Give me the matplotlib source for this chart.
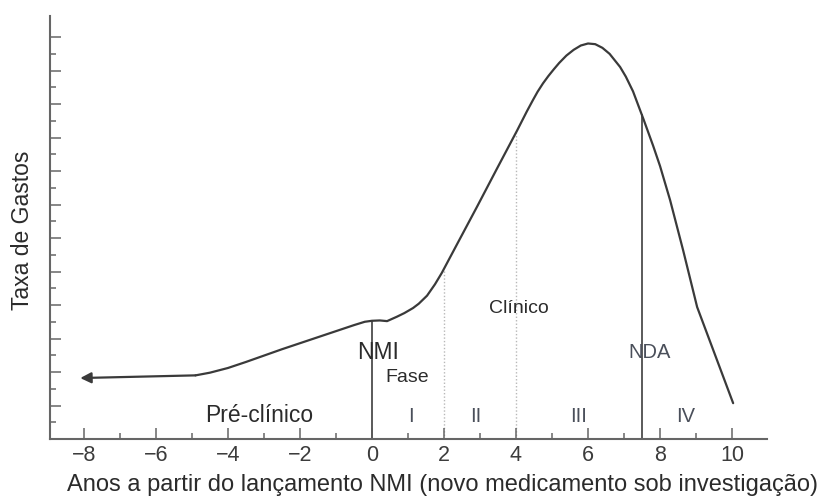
import matplotlib
matplotlib.use('Agg')
import matplotlib.pyplot as plt
import numpy as np
from matplotlib.ticker import MultipleLocator, NullFormatter

plt.rcParams['font.family'] = ['Liberation Sans', 'DejaVu Sans']

# curve (years from NMI launch vs. spending rate)
years = [-8.1, -4.9, -4.5, -4.0, -3.5, -3.0, -2.5, -2.0, -1.5, -1.0, -0.5, -0.2, 0.0,
         0.22, 0.42, 0.69, 0.9, 1.14, 1.3, 1.53, 1.75, 1.94, 2.36, 2.92, 3.47, 4.03,
         4.3, 4.47, 4.6, 4.75, 4.9, 5.05, 5.2, 5.4, 5.6, 5.8, 6.0, 6.2, 6.4, 6.6,
         6.89, 7.05, 7.25, 7.54, 7.81, 8.0, 8.28, 8.64, 9.03, 10.03]
spend = [1.82, 1.90, 1.98, 2.12, 2.30, 2.49, 2.68, 2.86, 3.04, 3.22, 3.40, 3.50, 3.53,
         3.54, 3.52, 3.65, 3.76, 3.91, 4.04, 4.28, 4.62, 4.96, 5.81, 6.94, 8.07, 9.21,
         9.78, 10.12, 10.37, 10.62, 10.84, 11.04, 11.23, 11.45, 11.62, 11.75, 11.81, 11.79, 11.68, 11.5,
         11.11, 10.82, 10.38, 9.55, 8.75, 8.15, 7.13, 5.64, 3.94, 1.07]

solid_marks = [0, 7.5]
dotted_marks = [2, 4]

phase_labels = ['Pré-clínico', 'I', 'II', 'III', 'IV']
phase_x = [-3.12, 1.08, 2.87, 5.75, 8.71]

x_ticks = [-8, -6, -4, -2, 0, 2, 4, 6, 8, 10]

LINE = '#3a3a3a'
TEXT = '#2b2b2b'

fig = plt.figure(figsize=(8.27, 4.96), dpi=100)
ax = fig.add_axes([50 / 827, 1 - 439 / 496, (767 - 50) / 827, (439 - 15.7) / 496])

ax.plot(years[1:], spend[1:], color=LINE, lw=1.6, solid_joinstyle='round',
        solid_capstyle='round', zorder=3)
ax.annotate('', xy=(years[0], spend[0]), xytext=(years[1], spend[1]),
            arrowprops=dict(arrowstyle='-|>', color=LINE, lw=1.6, mutation_scale=16,
                            shrinkA=0, shrinkB=0), zorder=3)

for xm in solid_marks:
    ax.plot([xm, xm], [0, np.interp(xm, years, spend)], color='#5a5a5a', lw=1.4, zorder=2)
for xm in dotted_marks:
    ax.plot([xm, xm], [0, np.interp(xm, years, spend)], color='#b8b8b8', lw=1.0,
            linestyle=(0, (1, 1.5)), zorder=1)

ax.set_xlim(-8.94, 10.97)
ax.set_ylim(0, 12.64)

ax.set_xticks(x_ticks)
ax.set_xticklabels([f'{v}'.replace('-', '\u2212') for v in x_ticks])
ax.xaxis.set_minor_locator(MultipleLocator(1))
ax.set_yticks(np.arange(1, 13))
ax.set_yticks(np.arange(0.5, 12), minor=True)
ax.yaxis.set_major_formatter(NullFormatter())
ax.tick_params(axis='both', which='major', direction='in', length=8, width=1.1,
               color='#666666', labelsize=15.5, labelcolor='#3c3c3c', pad=4)
ax.tick_params(axis='both', which='minor', direction='in', length=4, width=1.1,
               color='#666666')

for side in ['top', 'right']:
    ax.spines[side].set_visible(False)
for side in ['left', 'bottom']:
    ax.spines[side].set_color('#666666')
    ax.spines[side].set_linewidth(1.5)

# phase labels along the bottom
for lab, xp in zip(phase_labels, phase_x):
    size = 16.5 if lab == 'Pré-clínico' else 14.5
    col = TEXT if lab == 'Pré-clínico' else '#4a4f5a'
    ax.text(xp, 0.52, lab, ha='center', va='baseline', fontsize=size, color=col)

ax.text(0.17, 2.39, 'NMI', ha='center', va='baseline', fontsize=16.5, color=TEXT)
ax.text(0.97, 1.70, 'Fase', ha='center', va='baseline', fontsize=14, color=TEXT)
ax.text(4.08, 3.75, 'Clínico', ha='center', va='baseline', fontsize=14, color=TEXT)
ax.text(7.71, 2.42, 'NDA', ha='center', va='baseline', fontsize=14.5, color='#4a4f5a')

fig.text(442.5 / 827, 1 - 490.5 / 496,
         'Anos a partir do lançamento NMI (novo medicamento sob investigação)',
         ha='center', va='baseline', fontsize=17, color=TEXT)
fig.text(22.5 / 827, 1 - 230.7 / 496, 'Taxa de Gastos', rotation=90,
         ha='center', va='center', fontsize=16.5, color=TEXT)

fig.savefig('out.png', dpi=100)
